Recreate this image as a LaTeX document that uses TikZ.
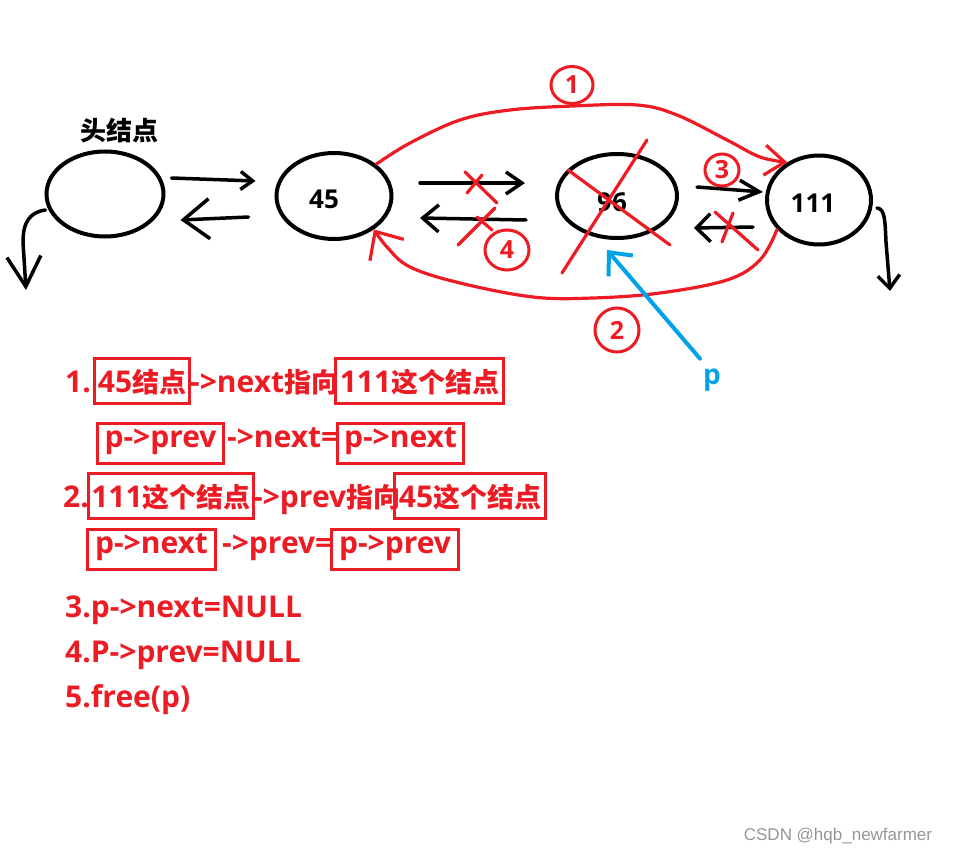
\documentclass[tikz,border=0pt]{standalone}
\usepackage{fontspec}
\setmainfont{Open Sans}
\newfontfamily\zhf{Noto Sans CJK SC}
\newfontfamily\wmf{Liberation Sans}
\usetikzlibrary{shapes.geometric,arrows.meta}
\definecolor{pred}{RGB}{237,28,36}
\definecolor{pblue}{RGB}{0,162,232}
\definecolor{wmgray}{RGB}{150,150,150}
\newcommand\zh[1]{{\zhf\bfseries\fontsize{27}{30}\selectfont #1}}
\tikzset{
  elp/.style={ellipse, draw=black, line width=4pt, inner sep=0pt},
  blk/.style={black, line width=3.5pt, line cap=round, line join=round},
  rl/.style={pred, line width=3.2pt, line cap=round, line join=round},
  circ/.style={ellipse, draw=pred, line width=3pt, inner sep=0pt, text=pred, font=\bfseries\fontsize{25}{25}\selectfont},
  box/.style={draw=pred, line width=3pt, inner sep=0pt, anchor=base west, text height=34pt, text depth=11pt, text=pred, font=\bfseries\fontsize{30}{34}\selectfont},
  lbox/.style={box, text height=24pt, text depth=16pt},
  rt/.style={text=pred, inner sep=0pt, anchor=base west, font=\bfseries\fontsize{30}{34}\selectfont},
  num/.style={font=\bfseries\fontsize{26}{26}\selectfont, inner sep=0pt},
}
\begin{document}
\begin{tikzpicture}[x=1pt,y=-1pt]
\useasboundingbox (0,0) rectangle (954,856);
\fill[white] (0,0) rectangle (954,856);

% list nodes
\node[elp, minimum width=117pt, minimum height=85pt] (head) at (105,194) {};
\node[elp, minimum width=115pt, minimum height=86pt] (n45) at (334,196) {};
\node[elp, minimum width=120pt, minimum height=84pt] (n96) at (617,196) {};
\node[elp, minimum width=104pt, minimum height=89pt] (n111) at (819,200) {};
\node[font=\zhf\bfseries\fontsize{26}{26}\selectfont, inner sep=0pt] (hl) at (119,131) {头结点};
\node[num] (t45) at (324,199) {45};
\node[num] (t96) at (612,202) {96};
\node[num] (t111) at (813,203) {111};

% black links
\draw[blk,-{Straight Barb[length=12pt,width=18pt]}] ([shift={(6,-16)}]head.east) -- ([shift={(-19,-15)}]n45.west);
\draw[blk,-{Straight Barb[length=26pt,width=40pt]}] ([shift={(-26,21)}]n45.west) -- ([shift={(15,26)}]head.east);
\draw[blk,-{Straight Barb[length=30pt,width=34pt]}] ([shift={(1,16)}]head.west) .. controls (30,212) and (23,222) .. (23,242) -- (26,290);
\draw[blk,-{Straight Barb[length=16pt,width=22pt]}] ([shift={(26.5,-13)}]n45.east) -- ([shift={(-30,-13)}]n96.west);
\draw[blk,-{Straight Barb[length=16pt,width=27pt]}] ([shift={(-29,24)}]n96.west) -- ([shift={(26.5,22)}]n45.east);
\draw[blk,-{Straight Barb[length=20pt,width=20pt]}] ([shift={(18,-9)}]n96.east) -- ([shift={(-2,-8)}]n111.west);
\draw[blk,-{Straight Barb[length=14pt,width=28pt]}] ([shift={(-12,27)}]n111.west) -- ([shift={(15,32)}]n96.east);
\draw[blk,-{Straight Barb[length=13pt,width=22pt]}] ([shift={(4,8)}]n111.east) .. controls (885,209) and (885,220) .. (886,242) -- (890,291);

% red re-links
\draw[rl,-{Straight Barb[length=20pt,width=30pt]}] plot[smooth,tension=0.6] coordinates {(n45.37) (410,143) (460,120) (510,110) (573,106) (637,105) (677,115) (727,140) (760,157) (n111.130)};
\draw[rl,-{Straight Barb[length=22pt,width=40pt]}] plot[smooth,tension=0.6] coordinates {(n111.215) (760,260) (727,280) (660,293) (593,298) (533,297) (460,283) (410,267) (387,247) (n45.-40)};

% circled step numbers
\node[circ, minimum width=42pt, minimum height=37pt] (c1) at (572,85) {1};
\node[circ, minimum width=44pt, minimum height=44pt] (c2) at (617,330) {2};
\node[circ, minimum width=34pt, minimum height=32pt] (c3) at (722,170) {3};
\node[circ, minimum width=44pt, minimum height=40pt] (c4) at (507,250) {4};

% red crosses
\draw[rl] (465,172) -- (497,203);
\draw[rl] (482,175) -- (467,193);
\draw[rl] (495,208) -- (458,245);
\draw[rl] (477,217) -- (492,230);
\draw[rl] (715,212) -- (758,250);
\draw[rl] (733,213) -- (722,242);
\draw[rl] (647,140) -- (562,273);
\draw[rl] (568,170) -- (670,245);

% pointer p
\node[font=\bfseries\fontsize{28}{28}\selectfont, text=pblue, inner sep=0pt] (p) at (712,380) {p};
\draw[pblue, line width=4pt, line cap=round, -{Straight Barb[length=18pt,width=32pt]}] ([shift={(-12,-10)}]p.north) -- ([shift={(-10,10)}]n96.south);

% explanation text
\node[rt] (l1a) at (65,392) {1.};
\node[box, minimum width=95pt] (b1) at (93,392) {45\zh{结点}};
\node[rt] (l1b) at (190,392) {->next\zh{指向}};
\node[box, minimum width=168pt] (b2) at (334,392) {111\zh{这个结点}};

\node[lbox, minimum width=126pt] (b3) at (96,447) {p->prev};
\node[rt] (l2a) at (227,447) {->next=};
\node[lbox, minimum width=126pt] (b4) at (336,447) {p->next};

\node[rt] (l3a) at (63,507) {2.};
\node[box, minimum width=165pt] (b5) at (87,507) {111\zh{这个结点}};
\node[rt] (l3b) at (253,507) {->prev\zh{指向}};
\node[box, minimum width=151pt] (b6) at (393,507) {45\zh{这个结点}};

\node[lbox, minimum width=128pt] (b7) at (86,553) {p->next};
\node[rt] (l4a) at (222,553) {->prev=};
\node[lbox, minimum width=127pt] (b8) at (330,553) {p->prev};

\node[rt] (l5) at (65,617) {3.p->next=NULL};
\node[rt] (l6) at (65,662) {4.P->prev=NULL};
\node[rt] (l7) at (65,707) {5.free(p)};

\node[font=\wmf\fontsize{17}{17}\selectfont, text=wmgray, inner sep=0pt] (wm) at (838,836) {CSDN @hqb\_newfarmer};
\end{tikzpicture}
\end{document}
